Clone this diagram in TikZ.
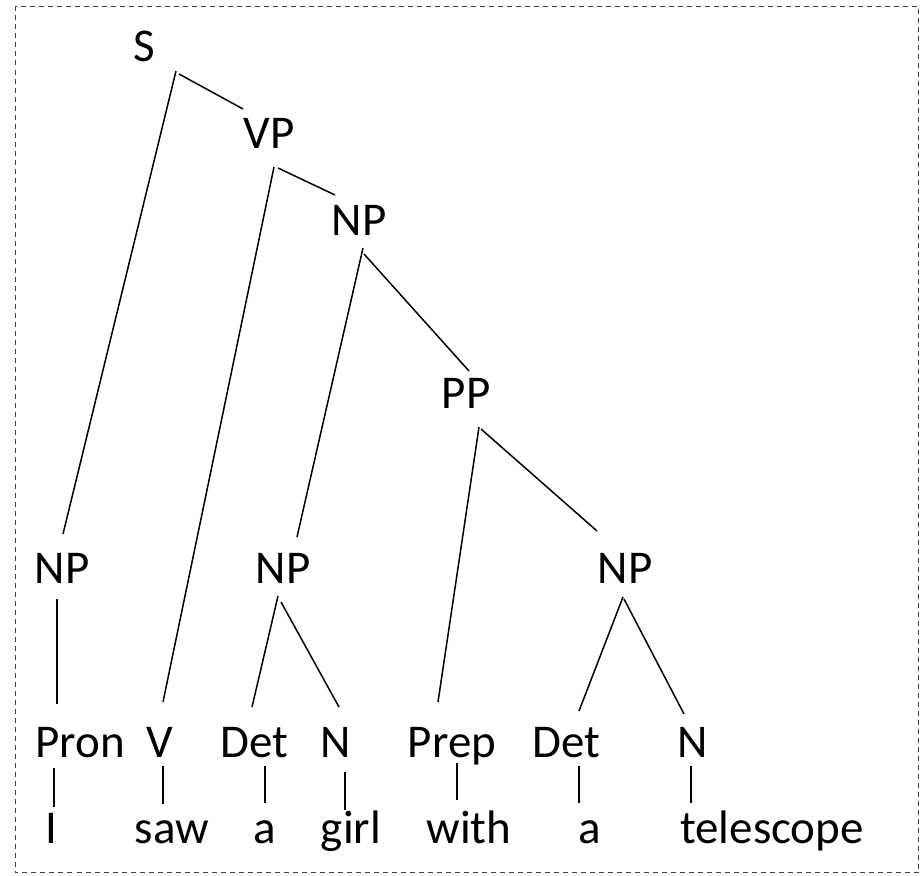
\documentclass[tikz,border=0pt]{standalone}
\usepackage{fontspec}
\setmainfont{Carlito}
\begin{document}
\begin{tikzpicture}[x=1pt,y=-1pt,
  lbl/.style={anchor=base,inner sep=0pt,font=\fontsize{47}{50}\selectfont},
  edge/.style={line width=1.5pt,black},
  frame/.style={draw=black!75,line width=1.1pt,dash pattern=on 5pt off 4pt}]
\useasboundingbox (0,0) rectangle (920,875);
\draw[frame] (15.5,6.5) rectangle (918.5,872.5);
% labels
\node[lbl] (S) at (144,62) {S};
\node[lbl] (VP) at (269,148) {VP};
\node[lbl] (NPa) at (359,235) {NP};
\node[lbl] (PP) at (466,408) {PP};
\node[lbl] (NP1) at (62,583) {NP};
\node[lbl] (NP2) at (283,583) {NP};
\node[lbl] (NP3) at (625,583) {NP};
\node[lbl] (Pron) at (80,757) {Pron};
\node[lbl] (V) at (160,757) {V};
\node[lbl] (Det1) at (254,757) {Det};
\node[lbl] (N1) at (336,757) {N};
\node[lbl] (Prep) at (452,757) {Prep};
\node[lbl] (Det2) at (566,757) {Det};
\node[lbl] (N2) at (693,757) {N};
\node[lbl] (wI) at (51,843) {I};
\node[lbl] (wsaw) at (172,843) {saw};
\node[lbl] (wa1) at (265,843) {a};
\node[lbl] (wgirl) at (351,843) {girl};
\node[lbl] (wwith) at (469,843) {with};
\node[lbl] (wa2) at (590,843) {a};
\node[lbl] (wtel) at (772,843) {telescope};
% connector end points
\coordinate (S-l) at (176,71);   \coordinate (NP1-t) at (63,534);
\coordinate (S-r) at (179,74);   \coordinate (VP-t) at (243,109);
\coordinate (VP-l) at (274,167); \coordinate (V-t) at (163,702);
\coordinate (VP-r) at (278,168); \coordinate (NPa-t) at (335,195);
\coordinate (NPa-l) at (363,248); \coordinate (NP2-t) at (297,537);
\coordinate (NPa-r) at (364,254); \coordinate (PP-t) at (469,371);
\coordinate (PP-l) at (479,427); \coordinate (Prep-t) at (438,702);
\coordinate (PP-r) at (481,429); \coordinate (NP3-t) at (597,531);
\coordinate (NP1-b) at (57,599); \coordinate (Pron-t) at (57,704);
\coordinate (NP2-l) at (278,596); \coordinate (Det1-t) at (252,707);
\coordinate (NP2-r) at (281,602); \coordinate (N1-t) at (339,707);
\coordinate (NP3-l) at (623,597); \coordinate (Det2-t) at (579,711);
\coordinate (NP3-r) at (624,599); \coordinate (N2-t) at (684,714);
\coordinate (Pron-b) at (54,768); \coordinate (wI-t) at (54,807);
\coordinate (V-b) at (163,766); \coordinate (wsaw-t) at (163,804);
\coordinate (Det1-b) at (265,766); \coordinate (wa1-t) at (265,803);
\coordinate (N1-b) at (345,772); \coordinate (wgirl-t) at (345,810);
\coordinate (Prep-b) at (457,763); \coordinate (wwith-t) at (457,800);
\coordinate (Det2-b) at (579,766); \coordinate (wa2-t) at (579,803);
\coordinate (N2-b) at (691,766); \coordinate (wtel-t) at (691,803);
% connectors
\draw[edge] (S-l) -- (NP1-t);
\draw[edge] (S-r) -- (VP-t);
\draw[edge] (VP-l) -- (V-t);
\draw[edge] (VP-r) -- (NPa-t);
\draw[edge] (NPa-l) -- (NP2-t);
\draw[edge] (NPa-r) -- (PP-t);
\draw[edge] (PP-l) -- (Prep-t);
\draw[edge] (PP-r) -- (NP3-t);
\draw[edge] (NP1-b) -- (Pron-t);
\draw[edge] (NP2-l) -- (Det1-t);
\draw[edge] (NP2-r) -- (N1-t);
\draw[edge] (NP3-l) -- (Det2-t);
\draw[edge] (NP3-r) -- (N2-t);
\draw[edge] (Pron-b) -- (wI-t);
\draw[edge] (V-b) -- (wsaw-t);
\draw[edge] (Det1-b) -- (wa1-t);
\draw[edge] (N1-b) -- (wgirl-t);
\draw[edge] (Prep-b) -- (wwith-t);
\draw[edge] (Det2-b) -- (wa2-t);
\draw[edge] (N2-b) -- (wtel-t);
\end{tikzpicture}
\end{document}
